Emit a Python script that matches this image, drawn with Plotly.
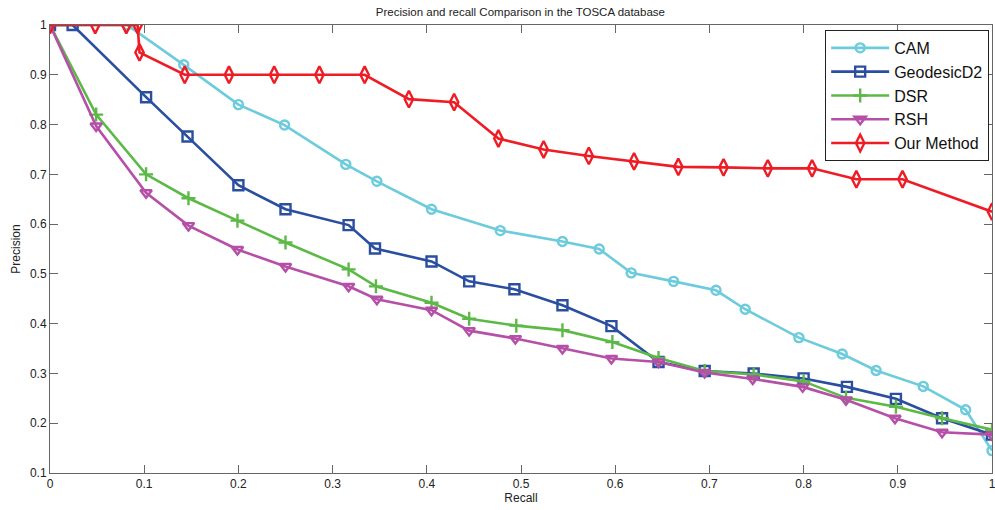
import plotly.graph_objects as go

# Precision / recall curves
cam_recall = [0.0, 0.082, 0.142, 0.200, 0.249, 0.314, 0.347, 0.405, 0.478, 0.544, 0.583,
              0.617, 0.662, 0.707, 0.738, 0.795, 0.841, 0.877, 0.927, 0.972, 1.0]
cam_precision = [1.0, 1.0, 0.92, 0.84, 0.799, 0.72, 0.686, 0.63, 0.587, 0.565, 0.55,
                 0.502, 0.485, 0.467, 0.429, 0.372, 0.339, 0.306, 0.274, 0.227, 0.145]

geo_recall = [0.0, 0.024, 0.102, 0.146, 0.200, 0.250, 0.317, 0.345, 0.405, 0.445, 0.493,
              0.544, 0.596, 0.646, 0.695, 0.747, 0.800, 0.846, 0.898, 0.947, 1.0]
geo_precision = [1.0, 1.0, 0.855, 0.776, 0.678, 0.63, 0.598, 0.551, 0.525, 0.485, 0.469,
                 0.437, 0.395, 0.323, 0.305, 0.30, 0.29, 0.273, 0.249, 0.21, 0.177]

dsr_recall = [0.0, 0.049, 0.102, 0.147, 0.199, 0.250, 0.317, 0.346, 0.405, 0.445, 0.495,
              0.544, 0.597, 0.646, 0.695, 0.747, 0.800, 0.845, 0.898, 0.947, 1.0]
dsr_precision = [1.0, 0.82, 0.70, 0.652, 0.607, 0.563, 0.509, 0.475, 0.442, 0.41, 0.396,
                 0.387, 0.363, 0.331, 0.305, 0.298, 0.284, 0.251, 0.233, 0.21, 0.187]

rsh_recall = [0.0, 0.049, 0.102, 0.147, 0.199, 0.250, 0.317, 0.347, 0.405, 0.445, 0.494,
              0.544, 0.596, 0.646, 0.695, 0.746, 0.799, 0.845, 0.897, 0.947, 1.0]
rsh_precision = [1.0, 0.797, 0.663, 0.597, 0.549, 0.515, 0.475, 0.449, 0.427, 0.386, 0.37,
                 0.35, 0.33, 0.323, 0.302, 0.289, 0.273, 0.247, 0.21, 0.182, 0.177]

our_recall = [0.0, 0.048, 0.081, 0.093, 0.095, 0.143, 0.190, 0.238, 0.286, 0.334, 0.381,
              0.429, 0.476, 0.524, 0.572, 0.620, 0.667, 0.715, 0.762, 0.809, 0.856,
              0.905, 1.0]
our_precision = [1.0, 1.0, 1.0, 1.0, 0.945, 0.9, 0.9, 0.9, 0.9, 0.9, 0.851,
                 0.845, 0.772, 0.75, 0.737, 0.726, 0.715, 0.714, 0.712, 0.712, 0.69,
                 0.69, 0.625]

x_ticks = [0, 0.1, 0.2, 0.3, 0.4, 0.5, 0.6, 0.7, 0.8, 0.9, 1]
x_tick_labels = ["0", "0.1", "0.2", "0.3", "0.4", "0.5", "0.6", "0.7", "0.8", "0.9", "1"]
y_ticks = [0.1, 0.2, 0.3, 0.4, 0.5, 0.6, 0.7, 0.8, 0.9, 1]
y_tick_labels = ["0.1", "0.2", "0.3", "0.4", "0.5", "0.6", "0.7", "0.8", "0.9", "1"]

series = [
    ("CAM", cam_recall, cam_precision, "#6ccbdc", "circle-open", 9),
    ("GeodesicD2", geo_recall, geo_precision, "#2a4ea0", "square-open", 10),
    ("DSR", dsr_recall, dsr_precision, "#5cb946", "cross-thin-open", 10),
    ("RSH", rsh_recall, rsh_precision, "#b54fa8", "triangle-down-open", 10),
    ("Our Method", our_recall, our_precision, "#ee1c25", "diamond-tall-open", 12),
]

fig = go.Figure()
for name, xs, ys, color, symbol, size in series:
    fig.add_trace(
        go.Scatter(
            x=xs,
            y=ys,
            mode="lines+markers",
            name=name,
            line={"width": 2.6, "color": color},
            marker={"symbol": symbol, "size": size, "color": color,
                    "line": {"width": 2.4, "color": color}},
        )
    )

font = "Arial, Liberation Sans, sans-serif"
fig.update_layout(
    width=995,
    height=510,
    paper_bgcolor="white",
    plot_bgcolor="white",
    margin={"l": 50, "r": 3, "t": 25, "b": 37},
    title={"text": "Precision and recall Comparison in the TOSCA database",
           "x": 0.523, "xanchor": "center", "y": 0.977, "yanchor": "middle",
           "font": {"family": font, "size": 11.5, "color": "#222"}},
    font={"family": font, "size": 12, "color": "#222"},
    legend={"x": 0.997, "y": 0.989, "xanchor": "right", "yanchor": "top",
            "bgcolor": "white", "bordercolor": "#222", "borderwidth": 1,
            "font": {"family": font, "size": 16, "color": "#111"},
            "tracegroupgap": 0, "itemwidth": 58},
    showlegend=True,
)
axis_style = dict(
    showline=True, linecolor="#666", linewidth=1, mirror="ticks",
    ticks="inside", ticklen=8, tickcolor="#666", tickwidth=1,
    showgrid=False, zeroline=False, automargin=False, ticklabeloverflow="allow",
    tickfont={"family": font, "size": 12, "color": "#222"},
)
fig.update_xaxes(range=[0, 1], tickmode="array", tickvals=x_ticks, ticktext=x_tick_labels,
                 title={"text": "Recall", "standoff": 2,
                        "font": {"family": font, "size": 12}}, **axis_style)
fig.update_yaxes(range=[0.1, 1], tickmode="array", tickvals=y_ticks, ticktext=y_tick_labels,
                 title={"text": "Precision", "standoff": 6,
                        "font": {"family": font, "size": 12}}, **axis_style)

# drop the default 8px page margin so the figure sits at the window origin
fig.write_html("out.html", config={"displayModeBar": False},
               post_script="document.body.style.margin='0px';")
